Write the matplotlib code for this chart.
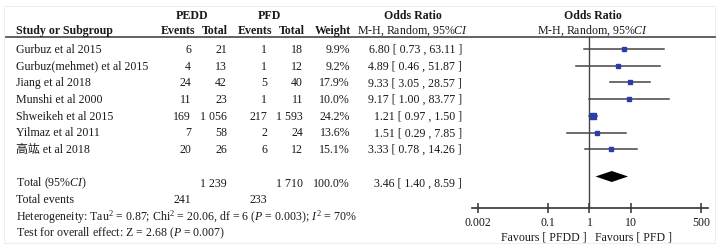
import numpy as np
import matplotlib.pyplot as plt
from matplotlib.patches import Rectangle

plt.rcParams['font.family'] = ['Liberation Serif', 'Noto Sans CJK SC']
plt.rcParams['mathtext.fontset'] = 'custom'
plt.rcParams['mathtext.rm'] = 'Liberation Serif'
plt.rcParams['mathtext.it'] = 'Liberation Serif:italic'

# data
studies = ['Gurbuz et al 2015', 'Gurbuz(mehmet) et al 2015', 'Jiang et al 2018',
           'Munshi et al 2000', 'Shweikeh et al 2015', 'Yilmaz et al 2011', '高竑 et al 2018']
pedd_events = [6, 4, 24, 11, 169, 7, 20]
pedd_total = [21, 13, 42, 23, 1056, 58, 26]
pfd_events = [1, 1, 5, 1, 217, 2, 6]
pfd_total = [18, 12, 40, 11, 1593, 24, 12]
weight = [9.9, 9.2, 17.9, 10.0, 24.2, 13.6, 15.1]
or_val = [6.80, 4.89, 9.33, 9.17, 1.21, 1.51, 3.33]
ci_low = [0.73, 0.46, 3.05, 1.00, 0.97, 0.29, 0.78]
ci_high = [63.11, 51.87, 28.57, 83.77, 1.50, 7.85, 14.26]
total_or = [3.46, 1.40, 8.59]
total_n = [241, 1239, 233, 1710]
ticks = [0.002, 0.1, 1, 10, 500]

def fmt(n):
    s = str(n)
    if len(s) > 3:
        s = s[:-3] + ' ' + s[-3:]
    return s

def fmt_or(o, lo, hi):
    return f'{o:.2f} [ {lo:.2f} , {hi:.2f} ]'

W, H = 725, 253
fig = plt.figure(figsize=(W / 100, H / 100), dpi=100)
tx = fig.add_axes([0, 0, 1, 1])
tx.set_xlim(0, W)
tx.set_ylim(H, 0)
tx.axis('off')

fs = 8.6
col = '#1a1a1a'

def row_y(i):
    return 50 + i * 16.7

# faint frame
tx.add_patch(Rectangle((4, 7), 711, 237, fill=False, ec='#eeeeee', lw=0.8))

# headers
tx.text(192, 16, 'PEDD', ha='center', va='center', fontsize=fs, color=col, fontweight='bold')
tx.text(269, 16, 'PFD', ha='center', va='center', fontsize=fs, color=col, fontweight='bold')
tx.text(413, 16, 'Odds Ratio', ha='center', va='center', fontsize=fs, color=col, fontweight='bold')
tx.text(593, 16, 'Odds Ratio', ha='center', va='center', fontsize=fs, color=col, fontweight='bold')
tx.text(16, 31, 'Study or Subgroup', ha='left', va='center', fontsize=fs, color=col, fontweight='bold')
tx.text(195, 31, 'Events', ha='right', va='center', fontsize=fs, color=col, fontweight='bold')
tx.text(228, 31, 'Total', ha='right', va='center', fontsize=fs, color=col, fontweight='bold')
tx.text(272, 31, 'Events', ha='right', va='center', fontsize=fs, color=col, fontweight='bold')
tx.text(305, 31, 'Total', ha='right', va='center', fontsize=fs, color=col, fontweight='bold')
tx.text(351, 31, 'Weight', ha='right', va='center', fontsize=fs, color=col, fontweight='bold')
tx.text(413, 31, 'M-H, Random, 95%$CI$', ha='center', va='center', fontsize=fs, color=col)
tx.text(593, 31, 'M-H, Random, 95%$CI$', ha='center', va='center', fontsize=fs, color=col)
tx.plot([6, 715], [38, 38], color='#555555', lw=1.3)

for i, s in enumerate(studies):
    y = row_y(i)
    tx.text(16, y, s, ha='left', va='center', fontsize=fs, color=col)
    tx.text(191, y, str(pedd_events[i]), ha='right', va='center', fontsize=fs, color=col)
    tx.text(227, y, fmt(pedd_total[i]), ha='right', va='center', fontsize=fs, color=col)
    tx.text(267, y, str(pfd_events[i]), ha='right', va='center', fontsize=fs, color=col)
    tx.text(303, y, fmt(pfd_total[i]), ha='right', va='center', fontsize=fs, color=col)
    tx.text(350, y, f'{weight[i]:.1f}%', ha='right', va='center', fontsize=fs, color=col)
    tx.text(462, y, fmt_or(or_val[i], ci_low[i], ci_high[i]),
            ha='right', va='center', fontsize=fs, color=col)

y = row_y(8)
tx.text(16, y, 'Total (95%$CI$)', ha='left', va='center', fontsize=fs, color=col)
tx.text(227, y, fmt(total_n[1]), ha='right', va='center', fontsize=fs, color=col)
tx.text(303, y, fmt(total_n[3]), ha='right', va='center', fontsize=fs, color=col)
tx.text(350, y, '100.0%', ha='right', va='center', fontsize=fs, color=col)
tx.text(462, y, fmt_or(*total_or), ha='right', va='center', fontsize=fs, color=col)
y = row_y(9)
tx.text(16, y, 'Total events', ha='left', va='center', fontsize=fs, color=col)
tx.text(191, y, str(total_n[0]), ha='right', va='center', fontsize=fs, color=col)
tx.text(267, y, str(total_n[2]), ha='right', va='center', fontsize=fs, color=col)
tx.text(16, row_y(10), 'Heterogeneity: Tau$^2$ = 0.87; Chi$^2$ = 20.06, df = 6 ($P$ = 0.003); $I^2$ = 70%',
        ha='left', va='center', fontsize=fs, color=col)
tx.text(16, row_y(11), 'Test for overall effect: Z = 2.68 ($P$ = 0.007)',
        ha='left', va='center', fontsize=fs, color=col)

# forest plot
x0, x1, ytop, yax = 472, 708, 38, 209
ax = fig.add_axes([x0 / W, (H - yax) / H, (x1 - x0) / W, (yax - ytop) / H])
ax.set_xscale('log')
ppd = 41.3
ax.set_xlim(10 ** ((x0 - 589.5) / ppd), 10 ** ((x1 - 589.5) / ppd))
ax.set_ylim(yax, ytop)
ax.patch.set_alpha(0)
for sp in ['top', 'left', 'right']:
    ax.spines[sp].set_visible(False)
ax.spines['bottom'].set_color('#333333')
ax.spines['bottom'].set_linewidth(1.2)
ax.set_yticks([])
ax.set_xticks(ticks)
ax.set_xticklabels(['0.002', '0.1', '1', '10', '500'])
ax.minorticks_off()
ax.tick_params(axis='x', direction='inout', length=7, width=1.1, color='#333333',
               labelsize=fs, labelcolor=col, pad=2)

ax.axvline(1, color='#444444', lw=1.0)
for i in range(len(studies)):
    y = row_y(i)
    ax.plot([ci_low[i], ci_high[i]], [y, y], color='#444444', lw=1.1)
    side = 1.2 + 0.2 * weight[i]
    ax.plot(or_val[i], y, marker='s', ms=side * 0.72, color='#2b3da8', mec='#2b3da8', lw=0)

yd = 177.5
ax.fill([total_or[1], total_or[0], total_or[2], total_or[0]],
        [yd, yd - 5.5, yd, yd + 5.5], color='black', lw=0)

tx.text(587, 238, 'Favours [ PFDD ]', ha='right', va='center', fontsize=fs, color=col)
tx.text(595, 238, 'Favours [ PFD ]', ha='left', va='center', fontsize=fs, color=col)

fig.savefig('out.png', dpi=100)
